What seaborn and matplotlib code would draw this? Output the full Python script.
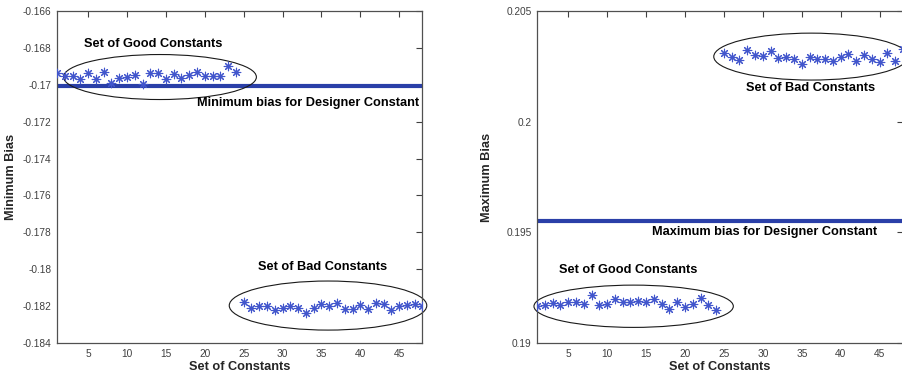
import numpy as np
import pandas as pd
import matplotlib
matplotlib.use('Agg')
import matplotlib.pyplot as plt
from matplotlib.patches import Ellipse
import seaborn as sns

# values
constants = list(range(1, 49))

min_good = [-0.16938, -0.16952, -0.16952, -0.16970, -0.16938, -0.16970, -0.16930, -0.16991,
            -0.16961, -0.16957, -0.16946, -0.16996, -0.16934, -0.16934, -0.16970, -0.16939,
            -0.16964, -0.16946, -0.16929, -0.16954, -0.16954, -0.16950, -0.16898, -0.16929]
min_bad = [-0.18180, -0.18211, -0.18198, -0.18198, -0.18222, -0.18208, -0.18202, -0.18211,
           -0.18239, -0.18208, -0.18187, -0.18197, -0.18184, -0.18213, -0.18213, -0.18193,
           -0.18217, -0.18184, -0.18190, -0.18222, -0.18202, -0.18193, -0.18187, -0.18197]
max_good = [0.19169, 0.19173, 0.19181, 0.19172, 0.19187, 0.19187, 0.19176, 0.19217,
            0.19172, 0.19176, 0.19199, 0.19184, 0.19184, 0.19188, 0.19184, 0.19197,
            0.19176, 0.19154, 0.19184, 0.19164, 0.19176, 0.19202, 0.19173, 0.19149]
max_bad = [0.20309, 0.20294, 0.20279, 0.20324, 0.20302, 0.20297, 0.20320, 0.20287,
           0.20290, 0.20282, 0.20260, 0.20294, 0.20282, 0.20282, 0.20272, 0.20291,
           0.20306, 0.20276, 0.20302, 0.20282, 0.20269, 0.20309, 0.20272, 0.20327]

designer_min = -0.17005
designer_max = 0.19552

min_ticks = [-0.166, -0.168, -0.17, -0.172, -0.174, -0.176, -0.178, -0.18, -0.182, -0.184]
min_ticklabels = ['-0.166', '-0.168', '-0.17', '-0.172', '-0.174', '-0.176', '-0.178', '-0.18', '-0.182', '-0.184']
max_ticks = [0.19, 0.195, 0.2, 0.205]
max_ticklabels = ['0.19', '0.195', '0.2', '0.205']
x_ticks = [5, 10, 15, 20, 25, 30, 35, 40, 45]

df_min = pd.DataFrame({'constant': constants, 'bias': min_good + min_bad})
df_max = pd.DataFrame({'constant': constants, 'bias': max_good + max_bad})

sns.set_style('white')
plt.rcParams['font.family'] = ['Liberation Sans', 'DejaVu Sans']

star_color = '#4256cc'
line_color = '#2a3fa8'
tick_color = '#404040'

fig = plt.figure(figsize=(9.03, 3.75), dpi=100)
ax1 = fig.add_axes([57 / 903, 1 - 343 / 375, 365.5 / 903, 332 / 375])
ax2 = fig.add_axes([537 / 903, 1 - 343 / 375, 366 / 903, 332 / 375])


def draw_panel(ax, data, designer, yticks, yticklabels, ylim, ylabel, label_x):
    ax.axhline(designer, color=line_color, lw=3, zorder=1)
    sns.scatterplot(data=data, x='constant', y='bias', ax=ax, marker=(8, 2, 0),
                    color=star_color, s=38, linewidth=0.8, zorder=3, legend=False)
    ax.set_xlim(1, 48)
    ax.set_ylim(*ylim)
    ax.set_xticks(x_ticks)
    ax.set_yticks(yticks)
    ax.set_yticklabels(yticklabels)
    ax.tick_params(direction='in', length=4, width=0.8, colors=tick_color,
                   labelsize=7.3, top=True, right=True, pad=4)
    for s in ax.spines.values():
        s.set_color('#505050')
        s.set_linewidth(0.9)
    ax.set_xlabel('Set of Constants', fontsize=9.2, fontweight='bold', labelpad=2)
    ax.set_ylabel(ylabel, fontsize=9.2, fontweight='bold')
    ax.yaxis.set_label_coords(label_x, 0.5)


draw_panel(ax1, df_min, designer_min, min_ticks, min_ticklabels, (-0.184, -0.166), 'Minimum Bias', -0.109)
draw_panel(ax2, df_max, designer_max, max_ticks, max_ticklabels, (0.19, 0.205), 'Maximum Bias', -0.12)

txt = dict(fontsize=9.2, fontweight='bold', color='black', va='center', ha='left')

# left panel annotations
ax1.add_patch(Ellipse((14.24, -0.16958), 24.8, 0.00244, fill=False, ec='#1a1a1a', lw=0.8, zorder=2))
ax1.add_patch(Ellipse((35.85, -0.18197), 25.4, 0.00266, fill=False, ec='#1a1a1a', lw=0.8,
                      zorder=2, clip_on=False))
ax1.text(4.47, -0.16779, 'Set of Good Constants', **txt)
ax1.text(19.0, -0.17099, 'Minimum bias for Designer Constant', **txt)
ax1.text(26.8, -0.17988, 'Set of Bad Constants', **txt)

# right panel annotations
ax2.add_patch(Ellipse((36.2, 0.20294), 25.0, 0.00212, fill=False, ec='#1a1a1a', lw=0.8,
                      zorder=2, clip_on=False))
ax2.add_patch(Ellipse((13.41, 0.19166), 25.6, 0.00191, fill=False, ec='#1a1a1a', lw=0.8,
                      zorder=2, clip_on=False))
ax2.text(27.9, 0.20153, 'Set of Bad Constants', **txt)
ax2.text(15.8, 0.19500, 'Maximum bias for Designer Constant', **txt)
ax2.text(3.83, 0.19332, 'Set of Good Constants', **txt)

fig.savefig('out.png', dpi=100)
